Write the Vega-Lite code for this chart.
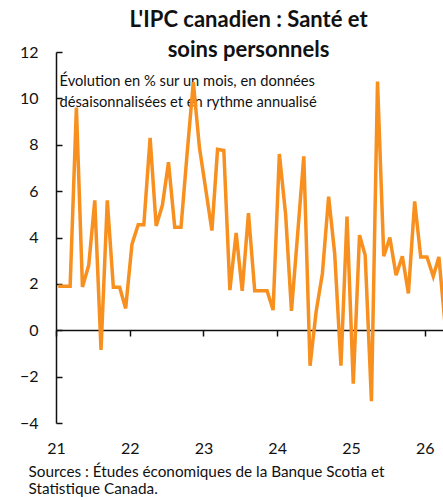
{
  "$schema": "https://vega.github.io/schema/vega-lite/v6.json",
  "autosize": "none",
  "width": 393,
  "height": 371,
  "padding": {"left": 56, "top": 52, "right": 0, "bottom": 77},
  "background": "white",
  "config": {"font": "Lato", "view": {"stroke": null}},
  "title": {
    "text": ["L'IPC canadien : Santé et", "soins personnels"],
    "font": "Lato",
    "fontSize": 22,
    "fontWeight": "bold",
    "color": "#111111",
    "anchor": "middle",
    "frame": "group",
    "dx": -4,
    "baseline": "alphabetic",
    "lineHeight": 30,
    "offset": -35
  },
  "data": {
    "values": [
      {"date": "2021-01-12", "v": 1.9},
      {"date": "2021-02-12", "v": 1.9},
      {"date": "2021-03-12", "v": 1.9},
      {"date": "2021-04-12", "v": 9.6},
      {"date": "2021-05-12", "v": 1.87},
      {"date": "2021-06-12", "v": 2.8},
      {"date": "2021-07-12", "v": 5.6},
      {"date": "2021-08-12", "v": -0.85},
      {"date": "2021-09-12", "v": 5.6},
      {"date": "2021-10-12", "v": 1.85},
      {"date": "2021-11-12", "v": 1.85},
      {"date": "2021-12-12", "v": 0.94},
      {"date": "2022-01-12", "v": 3.7},
      {"date": "2022-02-12", "v": 4.55},
      {"date": "2022-03-12", "v": 4.55},
      {"date": "2022-04-12", "v": 8.3},
      {"date": "2022-05-12", "v": 4.5},
      {"date": "2022-06-12", "v": 5.4},
      {"date": "2022-07-12", "v": 7.25},
      {"date": "2022-08-12", "v": 4.44},
      {"date": "2022-09-12", "v": 4.44},
      {"date": "2022-10-12", "v": 7.6},
      {"date": "2022-11-12", "v": 10.7},
      {"date": "2022-12-12", "v": 7.9},
      {"date": "2023-01-12", "v": 6.1},
      {"date": "2023-02-12", "v": 4.3},
      {"date": "2023-03-12", "v": 7.8},
      {"date": "2023-04-12", "v": 7.75},
      {"date": "2023-05-12", "v": 1.73},
      {"date": "2023-06-12", "v": 4.2},
      {"date": "2023-07-12", "v": 1.7},
      {"date": "2023-08-12", "v": 5.05},
      {"date": "2023-09-12", "v": 1.7},
      {"date": "2023-10-12", "v": 1.7},
      {"date": "2023-11-12", "v": 1.7},
      {"date": "2023-12-12", "v": 0.87},
      {"date": "2024-01-12", "v": 7.6},
      {"date": "2024-02-12", "v": 5.0},
      {"date": "2024-03-12", "v": 0.84},
      {"date": "2024-04-12", "v": 4.2},
      {"date": "2024-05-12", "v": 7.5},
      {"date": "2024-06-12", "v": -1.53},
      {"date": "2024-07-12", "v": 0.8},
      {"date": "2024-08-12", "v": 2.44},
      {"date": "2024-09-12", "v": 5.76},
      {"date": "2024-10-12", "v": 3.3},
      {"date": "2024-11-12", "v": -1.53},
      {"date": "2024-12-12", "v": 4.9},
      {"date": "2025-01-12", "v": -2.3},
      {"date": "2025-02-12", "v": 4.1},
      {"date": "2025-03-12", "v": 3.23},
      {"date": "2025-04-12", "v": -3.06},
      {"date": "2025-05-12", "v": 10.73},
      {"date": "2025-06-12", "v": 3.19},
      {"date": "2025-07-12", "v": 4.0},
      {"date": "2025-08-12", "v": 2.37},
      {"date": "2025-09-12", "v": 3.19},
      {"date": "2025-10-12", "v": 1.59},
      {"date": "2025-11-12", "v": 5.56},
      {"date": "2025-12-12", "v": 3.16},
      {"date": "2026-01-12", "v": 3.16},
      {"date": "2026-02-12", "v": 2.33},
      {"date": "2026-03-12", "v": 3.16},
      {"date": "2026-04-12", "v": 0.2}
    ]
  },
  "layer": [
    {
      "mark": {"type": "line", "color": "#F7901E", "strokeWidth": 3.5, "strokeJoin": "miter", "clip": true},
      "encoding": {
        "x": {
          "field": "date",
          "type": "temporal",
          "scale": {"domain": ["2021-01-01", "2026-05-01"], "nice": false},
          "axis": {
            "orient": "bottom",
            "format": "%y",
            "tickCount": {"interval": "year", "step": 1},
            "domain": false,
            "ticks": false,
            "grid": false,
            "labelFont": "Lato",
            "labelFontSize": 16,
            "labelColor": "#111111",
            "labelPadding": 17,
            "labelDx": 2,
            "labelFlush": false,
            "labelOverlap": false,
            "title": ["Sources : Études économiques de la Banque Scotia et", "Statistique Canada."],
            "titleFont": "Lato",
            "titleFontSize": 15.3,
            "titleFontWeight": "normal",
            "titleColor": "#111111",
            "titleAnchor": "start",
            "titleAlign": "left",
            "titleBaseline": "alphabetic",
            "titleLineHeight": 17,
            "titleX": -28,
            "titleY": 53
          }
        },
        "y": {
          "field": "v",
          "type": "quantitative",
          "scale": {"domain": [-4, 12], "nice": false, "zero": false},
          "axis": {
            "orient": "left",
            "values": [-4, -2, 0, 2, 4, 6, 8, 10, 12],
            "grid": false,
            "domain": false,
            "ticks": false,
            "labelFont": "Lato",
            "labelFontSize": 16,
            "labelColor": "#111111",
            "labelPadding": 18,
            "title": ["Évolution en % sur un mois, en données", "désaisonnalisées et en rythme annualisé"],
            "titleFont": "Lato",
            "titleFontSize": 14.7,
            "titleFontWeight": "normal",
            "titleColor": "#111111",
            "titleAngle": 0,
            "titleAlign": "left",
            "titleBaseline": "alphabetic",
            "titleLineHeight": 21,
            "titleX": 3,
            "titleY": 33
          }
        }
      }
    },
    {
      "mark": {"type": "rule", "opacity": 0},
      "encoding": {
        "x": {
          "field": "date",
          "type": "temporal",
          "axis": {
            "orient": "bottom",
            "offset": -93,
            "format": "%y",
            "tickCount": {"interval": "year", "step": 1},
            "labels": false,
            "domain": true,
            "domainColor": "#111111",
            "domainWidth": 1.5,
            "ticks": true,
            "tickColor": "#111111",
            "tickWidth": 1.5,
            "tickSize": 6,
            "grid": false,
            "title": null
          }
        },
        "y": {
          "field": "v",
          "type": "quantitative",
          "axis": {
            "orient": "right",
            "offset": -393,
            "values": [-4, -2, 0, 2, 4, 6, 8, 10, 12],
            "labels": false,
            "domain": true,
            "domainColor": "#111111",
            "domainWidth": 1.5,
            "ticks": true,
            "tickColor": "#111111",
            "tickWidth": 1.5,
            "tickSize": 6,
            "grid": false,
            "title": null
          }
        }
      }
    }
  ],
  "resolve": {"axis": {"x": "independent", "y": "independent"}}
}
